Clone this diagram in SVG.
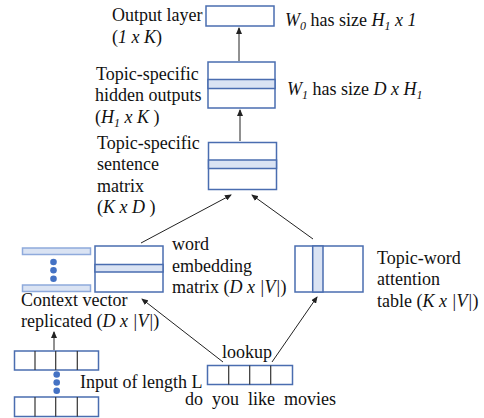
<svg xmlns="http://www.w3.org/2000/svg" width="484" height="418" viewBox="0 0 484 418">
<style>
text{font-family:"Liberation Serif","Times New Roman",serif;font-size:18px;fill:#111}
.it{font-style:italic}
.sub{font-size:12px;font-style:italic}
.box{fill:#fff;stroke:#4A6DB0;stroke-width:1.5}
.band{fill:#DAE3F3;stroke:#4A6DB0;stroke-width:1.5}
.bar{fill:#DAE3F3;stroke:#8FAADC;stroke-width:1.5}
.div{stroke:#333;stroke-width:1.2}
.dot{fill:#4472C4}
.con{stroke:#222;stroke-width:1;fill:none;marker-end:url(#ah)}
</style>
<defs>
<marker id="ah" markerUnits="userSpaceOnUse" markerWidth="7" markerHeight="6" refX="6" refY="3" orient="auto">
<path d="M0,0 L7,3 L0,6 z" fill="#222"/>
</marker>
</defs>
<rect width="484" height="418" fill="#fff"/>

<g id="output-layer">
<rect class="box" x="206" y="6" width="68" height="20"/>
<text x="112" y="21">Output layer</text>
<text x="112" y="43">(<tspan class="it">1 x K</tspan>)</text>
<text x="285" y="26"><tspan class="it">W</tspan><tspan class="sub" dy="4">0</tspan><tspan dy="-4"> has size </tspan><tspan class="it">H</tspan><tspan class="sub" dy="4">1</tspan><tspan class="it" dy="-4"> x 1</tspan></text>
</g>

<g id="hidden-outputs">
<rect class="box" x="208" y="62" width="67" height="46"/>
<rect class="band" x="208" y="79.5" width="67" height="9"/>
<text x="96" y="80">Topic-specific</text>
<text x="95" y="101">hidden outputs</text>
<text x="95" y="123">(<tspan class="it">H</tspan><tspan class="sub" dy="4">1</tspan><tspan class="it" dy="-4"> x K </tspan>)</text>
<text x="287" y="95"><tspan class="it">W</tspan><tspan class="sub" dy="4">1</tspan><tspan dy="-4"> has size </tspan><tspan class="it">D x H</tspan><tspan class="sub" dy="4">1</tspan></text>
</g>

<g id="sentence-matrix">
<rect class="box" x="208.5" y="142.5" width="68" height="47"/>
<rect class="band" x="208.5" y="160" width="68" height="8.5"/>
<text x="97" y="149">Topic-specific</text>
<text x="97" y="170">sentence</text>
<text x="97" y="192">matrix</text>
<text x="97" y="213">(<tspan class="it">K x D </tspan>)</text>
</g>

<g id="context-vector">
<rect class="bar" x="22.5" y="248" width="68" height="6.5"/>
<rect class="bar" x="22.5" y="285" width="68" height="6.5"/>
<circle class="dot" cx="53.5" cy="262" r="3.3"/>
<circle class="dot" cx="53.5" cy="270.3" r="3.3"/>
<circle class="dot" cx="53.5" cy="278.7" r="3.3"/>
<text x="21" y="306">Context vector</text>
<text x="21" y="327">replicated  (<tspan class="it">D x |V|</tspan>)</text>
</g>

<g id="word-embedding">
<rect class="box" x="95" y="246" width="68" height="46"/>
<rect class="band" x="95" y="264.5" width="68" height="7.5"/>
<text x="172" y="250">word</text>
<text x="172" y="272">embedding</text>
<text x="172" y="293">matrix (<tspan class="it">D x |V|</tspan>)</text>
</g>

<g id="topic-word-table">
<rect class="box" x="295" y="246" width="68" height="46"/>
<rect class="band" x="312.7" y="246" width="10.3" height="46"/>
<text x="377" y="264">Topic-word</text>
<text x="377" y="285">attention</text>
<text x="377" y="307">table (<tspan class="it">K x |V|</tspan>)</text>
</g>

<g id="input">
<rect class="box" x="14.5" y="351" width="84" height="19"/>
<line class="div" x1="35" y1="351" x2="35" y2="370"/>
<line class="div" x1="55.7" y1="351" x2="55.7" y2="370"/>
<line class="div" x1="77.3" y1="351" x2="77.3" y2="370"/>
<circle class="dot" cx="56.7" cy="374.5" r="3.3"/>
<circle class="dot" cx="56.7" cy="382.5" r="3.3"/>
<circle class="dot" cx="56.7" cy="390.7" r="3.3"/>
<rect class="box" x="14.5" y="397" width="84" height="19.5"/>
<line class="div" x1="35" y1="397" x2="35" y2="416.5"/>
<line class="div" x1="55.7" y1="397" x2="55.7" y2="416.5"/>
<line class="div" x1="77.3" y1="397" x2="77.3" y2="416.5"/>
<text x="80" y="388">Input of length L</text>
</g>

<g id="lookup">
<rect class="box" x="207.5" y="365.5" width="85" height="19"/>
<line class="div" x1="228.7" y1="365.5" x2="228.7" y2="384.5"/>
<line class="div" x1="249.7" y1="365.5" x2="249.7" y2="384.5"/>
<line class="div" x1="270.7" y1="365.5" x2="270.7" y2="384.5"/>
<text x="222" y="358">lookup</text>
<text x="185" y="405" xml:space="preserve">do  you  like  movies</text>
</g>

<g id="connectors">
<line class="con" x1="239" y1="61" x2="239" y2="28"/>
<line class="con" x1="240" y1="141" x2="240" y2="110"/>
<line class="con" x1="141" y1="243" x2="231" y2="195"/>
<line class="con" x1="313" y1="239" x2="252" y2="195"/>
<line class="con" x1="223" y1="362" x2="142" y2="299"/>
<line class="con" x1="272" y1="362" x2="317" y2="297"/>
<line class="con" x1="54" y1="350" x2="54" y2="332"/>
</g>
</svg>
